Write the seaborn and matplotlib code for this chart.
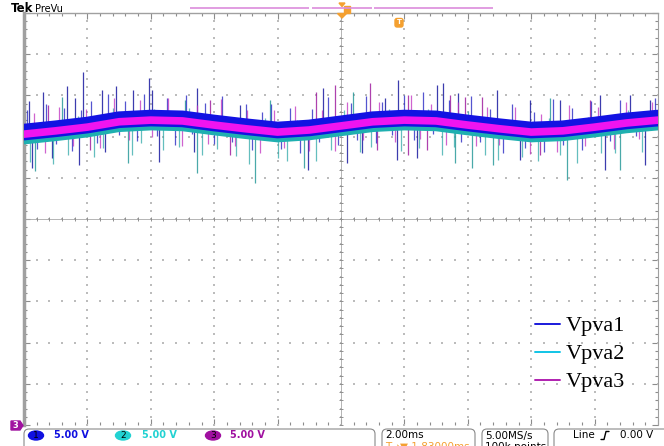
import numpy as np
import pandas as pd
import matplotlib
matplotlib.use("Agg")
import matplotlib.pyplot as plt
import seaborn as sns
from matplotlib.patches import FancyBboxPatch, Ellipse, Polygon, Rectangle

# ---------------------------------------------------------------- data
# averaged PV-array voltages, one sample per millisecond (2 ms/div, 5 V/div)
t_ms = [-10, -9, -8, -7, -6, -5, -4, -3, -2, -1, 0,
        1, 2, 3, 4, 5, 6, 7, 8, 9, 10]
vpva1 = [10.55, 10.95, 11.40, 12.05, 12.25, 12.15, 11.65, 11.20, 10.80, 11.05, 11.55,
         12.05, 12.25, 12.15, 11.65, 11.20, 10.80, 10.95, 11.40, 11.90, 12.25]
vpva2 = [9.60, 10.00, 10.45, 11.10, 11.30, 11.20, 10.70, 10.25, 9.85, 10.10, 10.60,
         11.10, 11.30, 11.20, 10.70, 10.25, 9.85, 10.00, 10.45, 10.95, 11.30]
vpva3 = [10.30, 10.70, 11.15, 11.80, 12.00, 11.90, 11.40, 10.95, 10.55, 10.80, 11.30,
         11.80, 12.00, 11.90, 11.40, 10.95, 10.55, 10.70, 11.15, 11.65, 12.00]

# large switching spikes: time (ms) and tip voltage (V)
spk1_t = [-9.84, -9.40, -8.64, -8.39, -8.14, -7.54, -7.10, -6.56, -6.06, -5.96, -4.54, -3.19,
          -0.57, 1.39, 1.80, 3.03, 3.22, 3.69, 4.92, 5.96, 6.91, 8.17, 9.12, 9.75,
          -9.75, -9.12, -8.27, -7.45, -5.74, -4.64, -1.04, 0.19, 0.66, 1.77, 2.40, 5.65, 8.33, 9.59]
spk1_v = [14.33, 15.42, 16.15, 14.69, 17.85, 15.66, 16.15, 15.66, 17.12, 15.66, 15.90, 13.84,
          15.90, 14.69, 16.87, 16.27, 16.51, 15.30, 15.66, 14.45, 14.45, 15.05, 15.05, 14.45,
          6.19, 7.41, 6.56, 8.13, 6.92, 8.13, 5.95, 6.80, 8.01, 7.16, 7.41, 7.16, 5.95, 6.56]
spk2_t = [-8.80, -4.92, 0.38, -2.24, 6.59,
          -9.65, -6.72, -4.54, -2.71, -1.17, 3.60, 4.13, 4.80, 7.13, 8.80]
spk2_v = [14.81, 14.45, 15.42, 14.45, 14.69,
          5.83, 6.80, 5.58, 4.37, 6.19, 6.80, 6.19, 6.56, 4.73, 5.95]
spk3_t = [-9.24, -0.79, -0.19, 0.91, 2.11, 3.44, 3.91, 4.45, -4.13, 7.86,
          1.14, 2.11, 2.71, -7.92, -3.50, 6.28]
spk3_v = [13.84, 15.42, 16.27, 16.51, 15.05, 15.05, 14.81, 14.81, 14.45, 14.45,
          8.38, 7.77, 8.38, 8.38, 7.77, 7.77]

# ripple noise around each trace: time (ms) and deviation from the trace (V)
nz1_t = [-9.9, -9.6, -9.3, -9.0, -8.75, -8.5, -8.2, -7.9, -7.7, -7.35, -7.0, -6.8, -6.45,
         -6.2, -5.8, -5.5, -5.25, -4.9, -4.7, -4.3, -4.0, -3.75, -3.45, -3.0, -2.8, -2.5,
         -2.2, -1.9, -1.6, -1.3, -0.9, -0.7, -0.4, -0.1, 0.3, 0.5, 0.8, 1.1, 1.3, 1.6,
         2.0, 2.3, 2.6, 2.9, 3.4, 3.8, 4.1, 4.4, 4.7, 5.1, 5.4, 5.8, 6.1, 6.4, 6.7,
         7.0, 7.3, 7.6, 7.9, 8.5, 8.8, 9.3, 9.9]
nz1_dv = [2.6, -2.2, 3.1, -1.8, 2.4, -2.9, 1.9, 2.8, -2.4, 3.3, -1.9, 2.2, -2.7,
          3.0, -2.1, 2.5, -3.2, 2.9, -1.7, 2.3, -2.6, 3.4, -2.0, 2.7, -2.8, 2.0,
          3.1, -2.3, 2.6, -3.0, 2.2, -1.8, 3.5, -2.5, 2.4, -2.2, 3.0, -2.9, 2.1, -2.0,
          2.8, -2.6, 3.2, -1.9, 2.5, -2.4, 3.3, -2.1, 2.0, -3.1, 2.9, -2.3, 2.2, -2.7, 3.6,
          -2.0, 2.4, -2.8, 3.0, -2.2, 2.7, -1.9, 2.5]
nz2_t = [-9.8, -9.45, -9.1, -8.6, -8.3, -7.8, -7.5, -7.2, -6.6, -6.3, -5.9, -5.6, -5.1,
         -4.8, -4.4, -3.9, -3.6, -3.3, -2.9, -2.4, -2.0, -1.7, -1.4, -0.8, -0.3, 0.1,
         0.6, 0.95, 1.5, 1.9, 2.45, 2.75, 3.2, 3.55, 4.0, 4.55, 4.95, 5.3, 5.7, 6.2,
         6.55, 6.9, 7.45, 7.8, 8.2, 8.65, 9.05, 9.5]
nz2_dv = [-2.8, 2.0, -3.3, -2.4, 2.2, -3.0, -2.1, 2.5, -3.4, -2.0, 2.1, -2.9, -2.5,
          2.4, -3.1, -2.2, 1.9, -2.7, -3.5, 2.3, -2.4, -2.9, 2.0, -3.2, -2.1, 2.6,
          -2.8, -2.3, 2.2, -3.0, -2.6, 2.1, -3.3, -2.2, 2.4, -2.7, -3.1, 1.8, -2.5, -2.9,
          2.3, -2.2, -3.4, 2.0, -2.6, -2.8, 2.2, -3.0]
nz3_t = [-9.7, -9.35, -8.9, -8.45, -8.05, -7.6, -7.15, -6.7, -6.35, -5.95, -5.45, -5.0,
         -4.55, -4.2, -3.8, -3.35, -2.95, -2.55, -2.1, -1.8, -1.45, -1.0, -0.6, -0.2,
         0.2, 0.7, 1.2, 1.7, 2.2, 2.5, 2.85, 3.3, 3.7, 4.25, 4.6, 5.0, 5.5, 5.95, 6.3,
         6.8, 7.2, 7.7, 8.1, 8.6, 9.0, 9.4, 9.8]
nz3_dv = [2.4, -2.6, 2.9, -2.1, 2.2, -2.8, 3.0, -2.3, 2.5, -2.0, 2.7, -3.1,
          2.1, -2.4, 3.2, -2.2, 2.3, -2.7, 2.6, -2.0, 3.0, -2.5, 2.2, -2.9,
          2.8, -2.1, 2.4, -2.6, 3.1, -2.3, 2.0, -2.8, 2.7, -2.4, 2.5, -2.0, 2.9, -2.7,
          2.2, -2.5, 3.0, -2.2, 2.4, -2.9, 2.6, -2.1, 2.3]

channels = ["Vpva1", "Vpva2", "Vpva3"]
volts_per_div = ["5.00 V", "5.00 V", "5.00 V"]
timebase = "2.00ms"
delay = "1.83000ms"
sample_rate = "5.00MS/s"
record_len = "100k points"
trig_source = "Line"
trig_level = "0.00 V"

# ---------------------------------------------------------------- style
sns.set_theme(style="white")
plt.rcParams["font.family"] = ["DejaVu Sans"]

trace_col = {"Vpva1": "#1212e2", "Vpva2": "#1fb0b0", "Vpva3": "#f014f0"}
spike_col = {"Vpva1": "#1a1aa0", "Vpva2": "#2a9a9a", "Vpva3": "#a020a0"}
noise_col = {"Vpva1": "#1c1cc0", "Vpva2": "#30a8a8", "Vpva3": "#c030c0"}
legend_col = {"Vpva1": "#1a1adc", "Vpva2": "#10c4e6", "Vpva3": "#b020b0"}
band_width = {"Vpva1": 12.0, "Vpva2": 6.5, "Vpva3": 5.5}

W, H = 664, 446
fig = plt.figure(figsize=(W / 100, H / 100), dpi=100)
fig.patch.set_facecolor("white")

# scope graticule area (pixels: x 24..658, y 13..425)
ax = fig.add_axes([24 / W, (H - 425) / H, 634 / W, 412 / H])
ax.set_xlim(-10, 10)
ax.set_ylim(-25, 25)
ax.set_facecolor("white")

# dotted graticule
gcol = "#bcbcbc"
maj_x = np.arange(-8, 8.01, 2)
min_x = np.arange(-10, 10.01, 0.4)
maj_y = np.arange(-20, 20.01, 5)
min_y = np.arange(-25, 25.01, 1)
gx, gy = np.meshgrid(maj_x, min_y)
ax.scatter(gx.ravel(), gy.ravel(), s=0.8, marker="s", color=gcol, linewidths=0, zorder=1)
gx, gy = np.meshgrid(min_x, maj_y)
ax.scatter(gx.ravel(), gy.ravel(), s=0.8, marker="s", color=gcol, linewidths=0, zorder=1)

# centre cross with division ticks
ax.axhline(0, color="#a8a8a8", lw=0.6, zorder=1)
ax.axvline(0, color="#a8a8a8", lw=0.6, zorder=1)
ax.scatter(min_x, np.zeros_like(min_x), marker="|", s=10, color="#909090", linewidths=0.7, zorder=1)
ax.scatter(np.zeros_like(min_y), min_y, marker="_", s=10, color="#909090", linewidths=0.7, zorder=1)

# border ticks
ax.set_xticks(np.arange(-10, 10.01, 2))
ax.set_xticks(min_x, minor=True)
ax.set_yticks(np.arange(-25, 25.01, 5))
ax.set_yticks(min_y, minor=True)
ax.tick_params(which="both", direction="in", top=True, right=True, bottom=True, left=True,
               labelbottom=False, labelleft=False, color="#8c8c8c", width=0.8)
ax.tick_params(which="major", length=4)
ax.tick_params(which="minor", length=2.5)
for side in ("top", "right", "bottom", "left"):
    ax.spines[side].set_color("#a0a0a0")
ax.spines["top"].set_linewidth(1.0)
ax.spines["right"].set_linewidth(0.8)
ax.spines["left"].set_linewidth(2.5)
ax.spines["bottom"].set_visible(False)

traces = {"Vpva1": vpva1, "Vpva2": vpva2, "Vpva3": vpva3}

# large switching spikes
for name, st, sv in (("Vpva1", spk1_t, spk1_v), ("Vpva2", spk2_t, spk2_v), ("Vpva3", spk3_t, spk3_v)):
    base = np.interp(st, t_ms, traces[name])
    ax.vlines(st, base, sv, color=spike_col[name], lw=0.9, alpha=0.85, zorder=2)

# ripple noise hugging each trace
for name, nt, ndv in (("Vpva1", nz1_t, nz1_dv), ("Vpva2", nz2_t, nz2_dv), ("Vpva3", nz3_t, nz3_dv)):
    base = np.interp(nt, t_ms, traces[name])
    ax.vlines(nt, base, base + np.asarray(ndv), color=noise_col[name], lw=0.9, alpha=0.75, zorder=2)

# averaged traces as thick noise bands (cyan underneath, magenta on top)
df = pd.concat([
    pd.DataFrame({"t": t_ms, "v": vals, "ch": name})
    for name, vals in zip(channels, (vpva1, vpva2, vpva3))
])
sns.lineplot(data=df, x="t", y="v", hue="ch", size="ch", palette=trace_col,
             hue_order=["Vpva2", "Vpva1", "Vpva3"], size_order=["Vpva2", "Vpva1", "Vpva3"],
             sizes=band_width, legend=False, ax=ax, zorder=3)
ax.set_xlabel("")
ax.set_ylabel("")

# ---------------------------------------------------------------- overlay in pixel units
ov = fig.add_axes([0, 0, 1, 1])
ov.set_xlim(0, W)
ov.set_ylim(H, 0)
ov.axis("off")
ov.patch.set_alpha(0)

ov.text(11, 9, "Tek", fontsize=8.5, fontweight="bold", va="center", ha="left", color="black")
ov.text(35, 8.5, "PreVu", fontsize=7, va="center", ha="left", color="black")

# record-position bar and trigger markers
pink = "#dc8cdc"
for x0, x1 in ((190, 309), (312, 372), (374, 493)):
    ov.plot([x0, x1], [7.5, 7.5], color=pink, lw=1.2, solid_capstyle="butt")
orange = "#f4a030"
ov.add_patch(Polygon([[339, 3], [345, 3], [342, 6.5]], closed=True, color=orange))
ov.add_patch(Rectangle((344, 6), 6, 7, color=orange))
ov.add_patch(Polygon([[337.5, 13.5], [346.5, 13.5], [342, 18]], closed=True, color=orange))
ov.add_patch(FancyBboxPatch((395, 18.5), 8, 8.5, boxstyle="round,pad=0,rounding_size=2",
                            color=orange))
ov.text(399, 22.5, "T", fontsize=5, color="white", ha="center", va="center", fontweight="bold")

# channel 3 ground marker
ov.add_patch(Polygon([[11, 421], [20, 421], [23, 425.5], [20, 430], [11, 430]],
                     closed=True, color="#a012a0"))
ov.text(15.5, 425.5, "3", fontsize=6, color="white", ha="center", va="center", fontweight="bold")

# status boxes
for x0, x1 in ((24, 375), (382, 475), (482, 548), (554, 672)):
    ov.add_patch(FancyBboxPatch((x0, 429), x1 - x0, 30, boxstyle="round,pad=0,rounding_size=5",
                                fill=False, ec="#8a8a8a", lw=0.8))

chip_col = ["#1010e0", "#22d2d2", "#a010a0"]
chip_x = [36, 123, 213]
text_x = [54, 142, 230]
for i in range(3):
    ov.add_patch(Ellipse((chip_x[i], 435.5), 15, 9, color=chip_col[i]))
    ov.text(chip_x[i], 435.5, str(i + 1), fontsize=6.5, color="black", ha="center", va="center")
    ov.text(text_x[i], 435.5, volts_per_div[i], fontsize=7, color=chip_col[i],
            ha="left", va="center", fontweight="bold")

ov.text(385, 435.5, timebase, fontsize=7.5, ha="left", va="center", color="black")
ov.text(385, 441.5, "T\u2192\u25bc " + delay, fontsize=7.5, ha="left", va="top", color=orange)
ov.text(485, 435.5, sample_rate, fontsize=7.5, ha="left", va="center", color="black")
ov.text(485, 441.5, record_len, fontsize=7.5, ha="left", va="top", color="black")
ov.text(573, 435.5, trig_source, fontsize=7.5, ha="left", va="center", color="black")
ov.plot([601, 604, 606, 609], [439.5, 439.5, 431.5, 431.5], color="black", lw=1.0)
ov.text(653, 435.5, trig_level, fontsize=7.5, ha="right", va="center", color="black")

# legend
for i, name in enumerate(channels):
    y = 324 + 28 * i
    ov.plot([535, 560], [y, y], color=legend_col[name], lw=1.4)
    ov.text(566, y + 7, name, fontsize=16, family=["Liberation Serif", "DejaVu Serif"],
            ha="left", va="baseline", color="black")

fig.savefig("out.png", dpi=100, facecolor="white")
